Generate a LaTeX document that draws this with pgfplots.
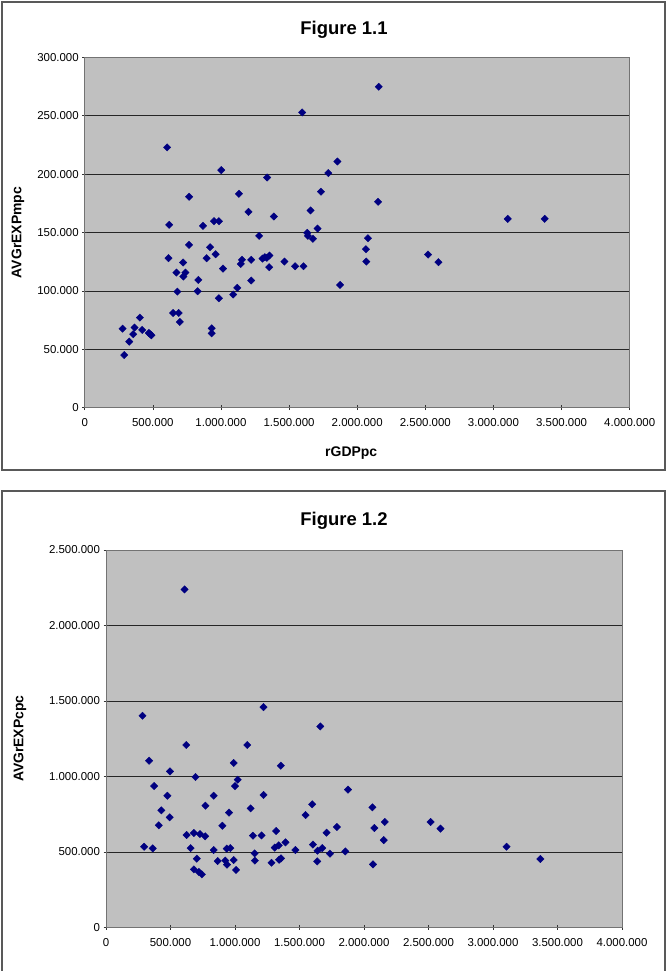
\documentclass[border=0pt]{standalone}
\usepackage{pgfplots}
\pgfplotsset{compat=1.18}
\usepackage{fontspec}
\setmainfont{Liberation Sans}
\definecolor{excelgray}{RGB}{192,192,192}
\definecolor{navy}{RGB}{0,0,128}
\pgfplotsset{
  excel/.style={
    scale only axis,
    anchor=south west,
    axis background/.style={fill=excelgray},
    ymajorgrids,
    major grid style={black!85, line width=0.7bp},
    axis line style={black!55, line width=0.9bp},
    tick style={black!80, line width=0.6bp},
    tick align=center,
    major tick length=5bp,
    tick pos=left,
    enlargelimits=false,
    scaled ticks=false,
    xmin=0, xmax=4000000, xtick distance=500000,
    tick label style={font=\fontsize{11.5}{13}\selectfont, text=black},
    xticklabel style={yshift=-5bp},
    /pgf/number format/assume math mode=true,
    /pgf/number format/.cd, fixed, precision=0, 1000 sep={.},
  },
  excelmarks/.style={only marks, mark=square*, mark size=2.6bp,
    mark options={rotate=45, fill=navy, draw=navy}},
}
\begin{document}
\begin{tikzpicture}[x=1bp,y=1bp]
\useasboundingbox (0,0) rectangle (667,-971);
\draw[black!65, line width=1.2bp] (2,-2) rectangle (665,-470);
\draw[black!65, line width=1.2bp] (2,-971) -- (2,-491) -- (665,-491) -- (665,-971);
\node[font=\bfseries\fontsize{18.5}{21}\selectfont] at (344,-30) {Figure 1.1};
\node[font=\bfseries\fontsize{18.5}{21}\selectfont] at (344,-521) {Figure 1.2};

\begin{axis}[excel,
  at={(84.7bp,-407.7bp)}, width=545bp, height=350.4bp,
  ymin=0, ymax=300000, ytick distance=50000,
  xlabel={rGDPpc}, ylabel={AVGrEXPmpc},
  every axis x label/.style={at={(axis description cs:0.5,0)}, anchor=center, yshift=-45bp, xshift=-6bp, font=\bfseries\fontsize{14}{16}\selectfont},
  every axis y label/.style={at={(axis description cs:-0.1224,0.5)}, anchor=center, rotate=90, font=\bfseries\fontsize{14}{16}\selectfont},
]
\addplot[excelmarks] table {
x y
605000 222900
1002000 203400
1339000 197100
766000 180600
1132000 183100
1202000 167700
1388000 163700
620000 156600
868000 155700
949000 159700
985000 159700
1280000 147100
766000 139400
920000 137400
961000 131400
895000 128000
615000 128000
722000 124300
1154000 126600
1146000 123100
1222000 126600
1305000 127700
1322000 128900
1337000 128300
1356000 130300
1354000 120300
673000 115700
739000 115700
724000 112300
1015000 119100
834000 109400
1222000 108900
680000 99400
829000 99700
1120000 102600
1090000 96900
985000 93700
649000 81100
690000 81100
698000 73400
932000 68000
932000 63700
278000 67700
405000 77100
366000 68600
422000 66600
356000 62900
471000 64000
490000 62000
482000 62800
327000 56600
290000 45100
2158000 274800
1596000 252800
1855000 210800
1788000 200900
1734000 184900
2153000 176300
1658000 168900
1709000 153400
1633000 149700
1638000 147100
1675000 144600
2079000 145100
2064000 135700
2067000 125100
1466000 125100
1544000 121100
1606000 121100
1874000 105100
2520000 131100
2596000 124600
3105000 161700
3376000 161700
};
\end{axis}

\begin{axis}[excel,
  at={(106bp,-927.3bp)}, width=516bp, height=377.3bp,
  ymin=0, ymax=2500000, ytick distance=500000,
  ylabel={AVGrEXPcpc},
  every axis y label/.style={at={(axis description cs:-0.1667,0.5)}, anchor=center, rotate=90, font=\bfseries\fontsize{14}{16}\selectfont},
]
\addplot[excelmarks] table {
x y
609000 2239000
283000 1402000
1221000 1459000
622000 1208000
1095000 1208000
334000 1104000
990000 1089000
1355000 1071000
496000 1033000
694000 996000
1021000 978000
1000000 936000
373000 936000
476000 872000
835000 872000
1221000 877000
771000 806000
429000 775000
1121000 788000
954000 760000
494000 729000
409000 676000
902000 673000
625000 612000
681000 625000
728000 618000
769000 603000
1139000 607000
1206000 609000
1319000 638000
296000 534000
362000 523000
656000 525000
835000 512000
936000 521000
964000 525000
1308000 528000
1339000 543000
1391000 563000
1468000 512000
1152000 490000
704000 455000
866000 439000
925000 442000
938000 415000
990000 446000
1154000 442000
1283000 428000
1342000 448000
1357000 457000
681000 384000
720000 367000
743000 351000
1008000 380000
1661000 1331000
1876000 912000
1598000 815000
2065000 795000
1547000 744000
2161000 698000
2516000 698000
1790000 665000
2080000 658000
2593000 654000
1710000 627000
2153000 578000
1604000 548000
1676000 525000
1640000 508000
1736000 488000
1855000 503000
1637000 437000
2070000 417000
3105000 534000
3367000 453000
};
\end{axis}
\end{tikzpicture}
\end{document}
